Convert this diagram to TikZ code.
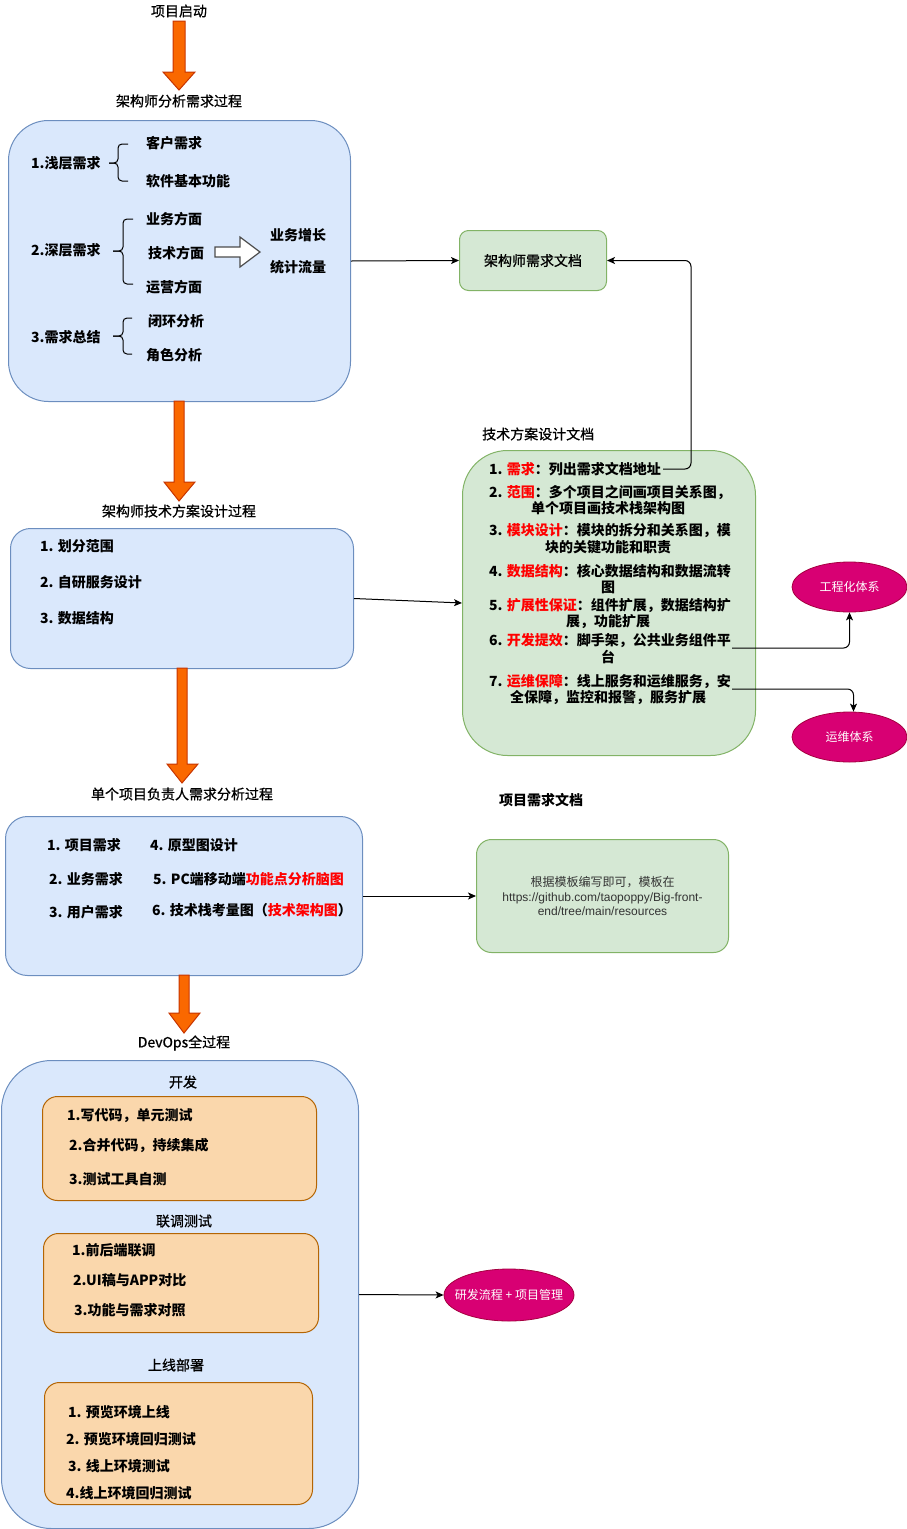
\documentclass[tikz,border=0pt]{standalone}
\usepackage{fontspec}
\setmainfont{Noto Sans CJK SC}
\newfontfamily\titlefont{Noto Sans CJK SC}[FakeBold=0.8]
\newfontfamily\latinsans{Liberation Sans}
\usetikzlibrary{shapes.geometric,arrows.meta}

\definecolor{blueFill}{HTML}{DAE8FC}
\definecolor{blueLine}{HTML}{6C8EBF}
\definecolor{greenFill}{HTML}{D5E8D4}
\definecolor{greenLine}{HTML}{82B366}
\definecolor{orangeFill}{HTML}{FAD7AC}
\definecolor{orangeLine}{HTML}{B46504}
\definecolor{flowFill}{HTML}{FA6800}
\definecolor{flowLine}{HTML}{C73500}
\definecolor{pinkFill}{HTML}{D80073}
\definecolor{pinkLine}{HTML}{A50040}
\definecolor{keyRed}{HTML}{FF0000}
\definecolor{noteGrey}{HTML}{333333}

\newcommand{\kw}[1]{\textcolor{keyRed}{#1}}

\tikzset{
  base/.style={inner sep=0pt, font=\fontsize{14}{16}\selectfont},
  title/.style={base, font=\fontsize{14}{16}\titlefont},
  item/.style={base, anchor=west, font=\fontsize{14}{16}\selectfont\bfseries},
  itemc/.style={base, font=\fontsize{14}{16}\selectfont\bfseries},
  panel/.style={draw=blueLine, fill=blueFill, line width=1pt, anchor=north west, inner sep=0pt},
  docbox/.style={draw=greenLine, fill=greenFill, line width=1pt, anchor=north west, inner sep=0pt},
  stagebox/.style={draw=orangeLine, fill=orangeFill, line width=1pt, anchor=north west, inner sep=0pt},
  topic/.style={ellipse, draw=pinkLine, fill=pinkFill, line width=0.8pt, inner sep=0pt,
    minimum width=115pt, minimum height=50pt},
  topictext/.style={inner sep=0pt, text=white, font=\fontsize{12}{14}\selectfont},
  flow/.style={draw=flowLine, fill=flowFill, line width=1pt, line join=miter},
  link/.style={draw=black, line width=1pt, -{Stealth[length=8pt,width=7pt,inset=2pt]}},
  bracket/.style={draw=black, line width=1pt, rounded corners=4pt},
  hollow/.style={draw=black!70, fill=white, line width=1.2pt, line join=miter},
}

\begin{document}
\begin{tikzpicture}[x=1pt,y=-1pt]
\useasboundingbox (0,0) rectangle (907,1529);

% ---------- stage 1: requirement analysis ----------
\node[title] (start) at (179,11) {项目启动};
\draw[flow] (173,21) -- (185,21) -- (185,72) -- (195,72) -- (179,90) -- (163,72) -- (173,72) -- cycle;
\node[title] (t1) at (179,101) {架构师分析需求过程};

\node[panel, rounded corners=40pt, minimum width=342pt, minimum height=281pt] (req) at (8,120) {};

\node[item] (r1) at (31,163) {1.浅层需求};
\node[item] (r1a) at (146,143) {客户需求};
\node[item] (r1b) at (146,181) {软件基本功能};
\draw[bracket] (128,144) -- (118,144) -- (118,163) -- (109,163);
\draw[bracket] (128,181) -- (118,181) -- (118,163) -- (109,163);

\node[item] (r2) at (31,250) {2.深层需求};
\node[item] (r2a) at (146,219) {业务方面};
\node[item] (r2b) at (148,253) {技术方面};
\node[item] (r2c) at (146,287) {运营方面};
\draw[bracket] (133,219) -- (123,219) -- (123,251) -- (113,251);
\draw[bracket] (133,284) -- (123,284) -- (123,251) -- (113,251);
\draw[hollow] (215,247) -- (240,247) -- (240,237) -- (260,252) -- (240,267) -- (240,257) -- (215,257) -- cycle;
\node[item] (r2d) at (270,235) {业务增长};
\node[item] (r2e) at (270,267) {统计流量};

\node[item] (r3) at (31,337) {3.需求总结};
\node[item] (r3a) at (148,321) {闭环分析};
\node[item] (r3b) at (146,355) {角色分析};
\draw[bracket] (132,318) -- (123,318) -- (123,336) -- (113,336);
\draw[bracket] (132,354) -- (123,354) -- (123,336) -- (113,336);

\node[docbox, rounded corners=9pt, minimum width=147pt, minimum height=60pt] (reqdoc) at (459,230) {};
\node[title] (reqdoctxt) at (reqdoc.center) {架构师需求文档};
\draw[link] (req.east) -- (reqdoc.west);

% ---------- stage 2: technical design ----------
\draw[flow] (174,401) -- (184,401) -- (184,482) -- (195,482) -- (179,501) -- (164,482) -- (174,482) -- cycle;
\node[title] (t2) at (179,511) {架构师技术方案设计过程};

\node[panel, rounded corners=20pt, minimum width=343pt, minimum height=140pt] (design) at (10,528) {};
\node[item] (d1) at (40,546) {1. 划分范围};
\node[item] (d2) at (40,582) {2. 自研服务设计};
\node[item] (d3) at (40,618) {3. 数据结构};

\node[title, anchor=west] (techtitle) at (482,434) {技术方案设计文档};
\node[docbox, rounded corners=45pt, minimum width=293pt, minimum height=305pt] (tech) at (462,450) {};
\draw[link] (design.east) -- (tech.west);

\node[item] (k1) at (489,469) {1. \kw{需求}：列出需求文档地址};
\node[item] (k2a) at (489,492) {2. \kw{范围}：多个项目之间画项目关系图，};
\node[itemc] (k2b) at (608,508) {单个项目画技术栈架构图};
\node[item] (k3a) at (489,531) {3. \kw{模块设计}：模块的拆分和关系图，模};
\node[itemc] (k3b) at (608,547) {块的关键功能和职责};
\node[item] (k4a) at (489,571) {4. \kw{数据结构}：核心数据结构和数据流转};
\node[itemc] (k4b) at (608,587) {图};
\node[item] (k5a) at (489,606) {5. \kw{扩展性保证}：组件扩展，数据结构扩};
\node[itemc] (k5b) at (608,622) {展，功能扩展};
\node[item] (k6a) at (489,641) {6. \kw{开发提效}：脚手架，公共业务组件平};
\node[itemc] (k6b) at (608,657) {台};
\node[item] (k7a) at (489,682) {7. \kw{运维保障}：线上服务和运维服务，安};
\node[itemc] (k7b) at (608,698) {全保障，监控和报警，服务扩展};

\node[topic] (eng) at (849.5,587) {};
\node[topictext] (engtxt) at (eng.center) {工程化体系};
\node[topic] (ops) at (849.5,737) {};
\node[topictext] (opstxt) at (ops.center) {运维体系};

\coordinate (fromreq) at (663,469);
\coordinate (fromdev) at (732,648);
\coordinate (fromops) at (732,689);
\draw[link, rounded corners=6pt] (fromreq) -- ++(28,0) |- (reqdoc.east);
\draw[link, rounded corners=6pt] (fromdev) -| (eng.south);
\draw[link, rounded corners=6pt] (fromops) -| ([xshift=4pt]ops.north);

% ---------- stage 3: project owner analysis ----------
\draw[flow] (177,668) -- (187,668) -- (187,764) -- (198,764) -- (182,783) -- (167,764) -- (177,764) -- cycle;
\node[title] (t3) at (182,794) {单个项目负责人需求分析过程};

\node[panel, rounded corners=22pt, minimum width=357pt, minimum height=159pt] (owner) at (5,816) {};
\node[item] (o1) at (47,845) {1. 项目需求};
\node[item] (o2) at (49,879) {2. 业务需求};
\node[item] (o3) at (49,912) {3. 用户需求};
\node[item] (o4) at (150,845) {4. 原型图设计};
\node[item] (o5) at (153,879) {5. PC端移动端\kw{功能点分析脑图}};
\node[item] (o6) at (152,910) {6. 技术栈考量图（\kw{技术架构图}）};

\node[item] (projtitle) at (499,800) {项目需求文档};
\node[docbox, rounded corners=15pt, minimum width=252pt, minimum height=113pt] (projdoc) at (476,839) {};
\node[base, align=center, text=noteGrey, font=\fontsize{12}{14.5}\selectfont] (projdoctxt) at (projdoc.center)
  {根据模板编写即可，模板在\\{\latinsans https://github.com/taopoppy/Big-front-}\\{\latinsans end/tree/main/resources}};
\draw[link] (owner.east) -- (projdoc.west);

% ---------- stage 4: DevOps ----------
\draw[flow] (179,975) -- (189,975) -- (189,1013) -- (200,1013) -- (184,1033) -- (169,1013) -- (179,1013) -- cycle;
\node[title] (t4) at (184,1043) {DevOps全过程};

\node[panel, rounded corners=50pt, minimum width=357pt, minimum height=468pt] (devops) at (1,1060) {};

\node[title] (devtitle) at (183,1082) {开发};
\node[stagebox, rounded corners=15pt, minimum width=274pt, minimum height=104pt] (dev) at (42,1096) {};
\node[item] (v1) at (67,1116) {1.写代码，单元测试};
\node[item] (v2) at (69,1145) {2.合并代码，持续集成};
\node[item] (v3) at (69,1179) {3.测试工具自测};

\node[title] (jointitle) at (184,1221) {联调测试};
\node[stagebox, rounded corners=15pt, minimum width=275pt, minimum height=99pt] (joint) at (43,1233) {};
\node[item] (j1) at (72,1250) {1.前后端联调};
\node[item] (j2) at (73,1280) {2.UI稿与APP对比};
\node[item] (j3) at (74,1310) {3.功能与需求对照};

\node[title] (reltitle) at (176,1365) {上线部署};
\node[stagebox, rounded corners=15pt, minimum width=268pt, minimum height=122pt] (release) at (44,1382) {};
\node[item] (p1) at (68,1412) {1. 预览环境上线};
\node[item] (p2) at (66,1439) {2. 预览环境回归测试};
\node[item] (p3) at (68,1466) {3. 线上环境测试};
\node[item] (p4) at (66,1493) {4.线上环境回归测试};

\node[topic, minimum width=130pt, minimum height=52pt] (mgmt) at (509,1295) {};
\node[topictext] (mgmttxt) at (mgmt.center) {研发流程 + 项目管理};
\draw[link] (devops.east) -- (mgmt.west);

\end{tikzpicture}
\end{document}
